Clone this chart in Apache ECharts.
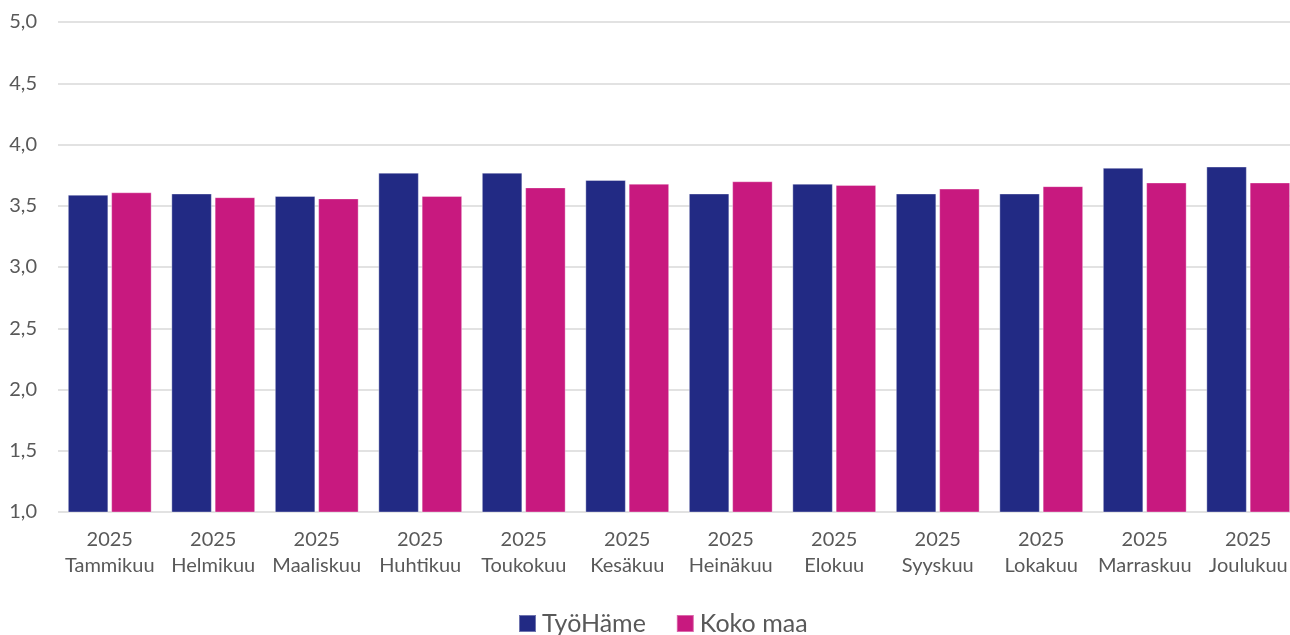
<!DOCTYPE html>
<html><head><meta charset="utf-8">
<script src="https://cdn.jsdelivr.net/npm/echarts@6/dist/echarts.min.js"></script>
<style>html,body{margin:0;padding:0;background:#fff;overflow:hidden}#c{width:1300px;height:635px}</style>
</head><body><div id="c"></div>
<script>
const years = ['2025','2025','2025','2025','2025','2025','2025','2025','2025','2025','2025','2025'];
const months = ['Tammikuu','Helmikuu','Maaliskuu','Huhtikuu','Toukokuu','Kesäkuu','Heinäkuu','Elokuu','Syyskuu','Lokakuu','Marraskuu','Joulukuu'];
const tyoHame = [3.59, 3.60, 3.58, 3.77, 3.77, 3.71, 3.60, 3.68, 3.60, 3.60, 3.81, 3.82];
const kokoMaa = [3.61, 3.57, 3.56, 3.58, 3.65, 3.68, 3.70, 3.67, 3.64, 3.66, 3.69, 3.69];
const seriesNames = ['TyöHäme', 'Koko maa'];
const categories = years.map((y, i) => y + '\n' + months[i]);

const font = 'Lato, "Open Sans", sans-serif';
const chart = echarts.init(document.getElementById('c'), null, {renderer: 'canvas'});
chart.setOption({
  animation: false,
  grid: {left: 58, right: 0, top: 22, height: 490, containLabel: false},
  legend: {
    data: seriesNames, top: 606, left: 513,
    icon: 'rect', itemWidth: 17, itemHeight: 17, itemGap: 30,
    textStyle: {fontFamily: font, fontSize: 25, color: '#595959', padding: [0, 0, 0, 1]}
  },
  xAxis: {
    type: 'category', data: categories,
    axisLine: {show: false}, axisTick: {show: false},
    axisLabel: {fontFamily: font, fontSize: 20, color: '#595959', lineHeight: 26, margin: 15, interval: 0}
  },
  yAxis: {
    type: 'value', min: 1, max: 5, interval: 0.5,
    axisLine: {show: false}, axisTick: {show: false},
    splitLine: {lineStyle: {color: '#d9d9d9', width: 1.5}},
    axisLabel: {fontFamily: font, fontSize: 20, color: '#595959', margin: 21,
      formatter: v => v.toFixed(1).replace('.', ',')}
  },
  series: [
    {name: seriesNames[0], type: 'bar', data: tyoHame, barGap: '7%', barCategoryGap: '19%',
     itemStyle: {color: '#222a84', borderColor: 'rgba(255,255,255,0.35)', borderWidth: 1}},
    {name: seriesNames[1], type: 'bar', data: kokoMaa,
     itemStyle: {color: '#c8197f', borderColor: 'rgba(255,255,255,0.35)', borderWidth: 1}}
  ]
});
</script></body></html>
